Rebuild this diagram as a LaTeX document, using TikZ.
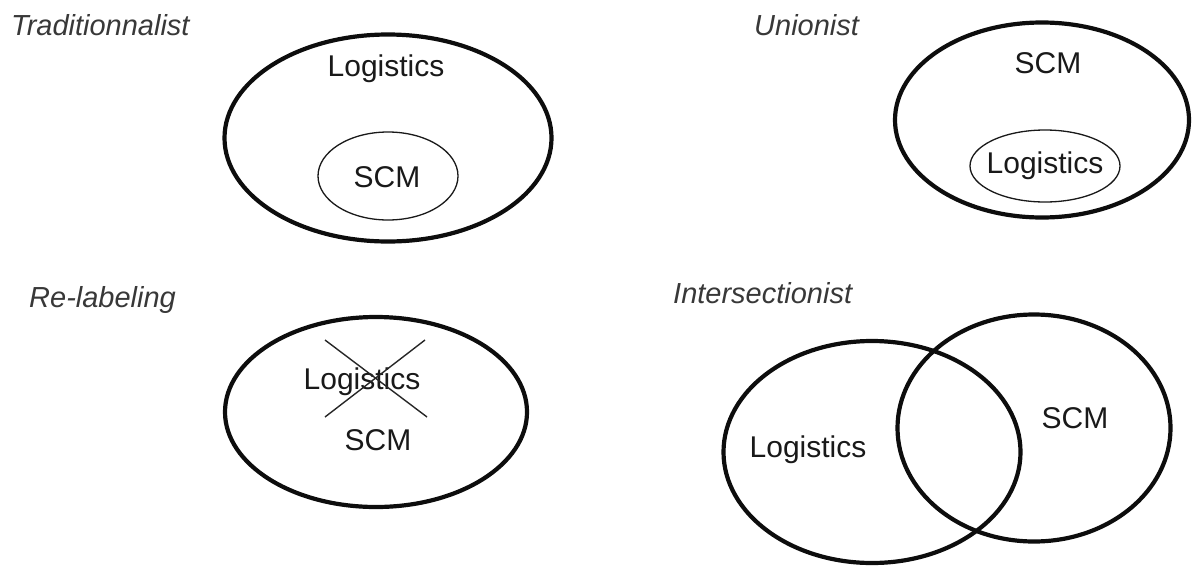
\documentclass[tikz,border=0pt]{standalone}
\usepackage{fontspec}
\setmainfont{Liberation Sans}
\usetikzlibrary{shapes.geometric}
\begin{document}
\begin{tikzpicture}[x=1pt,y=-1pt,
  outer/.style={ellipse, draw=black!95, line width=4.2pt, inner sep=0pt},
  inner/.style={ellipse, draw=black!90, line width=1.3pt, inner sep=0pt},
  word/.style={font=\fontsize{30}{34}\selectfont, text=black!90, inner sep=0pt},
  caption/.style={font=\fontsize{29}{33}\selectfont\itshape, text=black!78, anchor=west, inner sep=0pt},
  strike/.style={draw=black!85, line width=1.4pt}]
\useasboundingbox (0,0) rectangle (1193,565);

% Traditionnalist: SCM inside logistics
\node[caption] (t1) at (11,25) {Traditionnalist};
\node[outer, minimum width=327pt, minimum height=207pt] (e1) at (388,138) {};
\node[inner, minimum width=140pt, minimum height=88pt] (e1i) at (388,176) {};
\node[word] (w1a) at (386,69) {Logistics};
\node[word] (w1b) at (387,177) {SCM};

% Unionist: logistics inside SCM
\node[caption] (t2) at (754,25) {Unionist};
\node[outer, minimum width=294pt, minimum height=195pt] (e2) at (1042,120) {};
\node[inner, minimum width=150pt, minimum height=72pt] (e2i) at (1045,166) {};
\node[word] (w2a) at (1048,63) {SCM};
\node[word] (w2b) at (1045,166) {Logistics};

% Re-labeling: logistics crossed out
\node[caption] (t3) at (29,300) {Re-labeling};
\node[outer, minimum width=302pt, minimum height=190pt] (e3) at (376,412) {};
\node[word] (w3a) at (362,382) {Logistics};
\node[word] (w3b) at (378,440) {SCM};
\coordinate (x1) at (325,340);
\coordinate (x2) at (427,417);
\coordinate (x3) at (425,340);
\coordinate (x4) at (325,417);
\draw[strike] (x1) -- (x2);
\draw[strike] (x3) -- (x4);

% Intersectionist: overlapping sets
\node[caption] (t4) at (673,293) {Intersectionist};
\node[outer, minimum width=297pt, minimum height=222pt] (c1) at (872,452) {};
\node[outer, minimum width=273pt, minimum height=227pt] (c2) at (1034,428) {};
\node[word] (w4a) at (808,450) {Logistics};
\node[word] (w4b) at (1075,418) {SCM};
\end{tikzpicture}
\end{document}
